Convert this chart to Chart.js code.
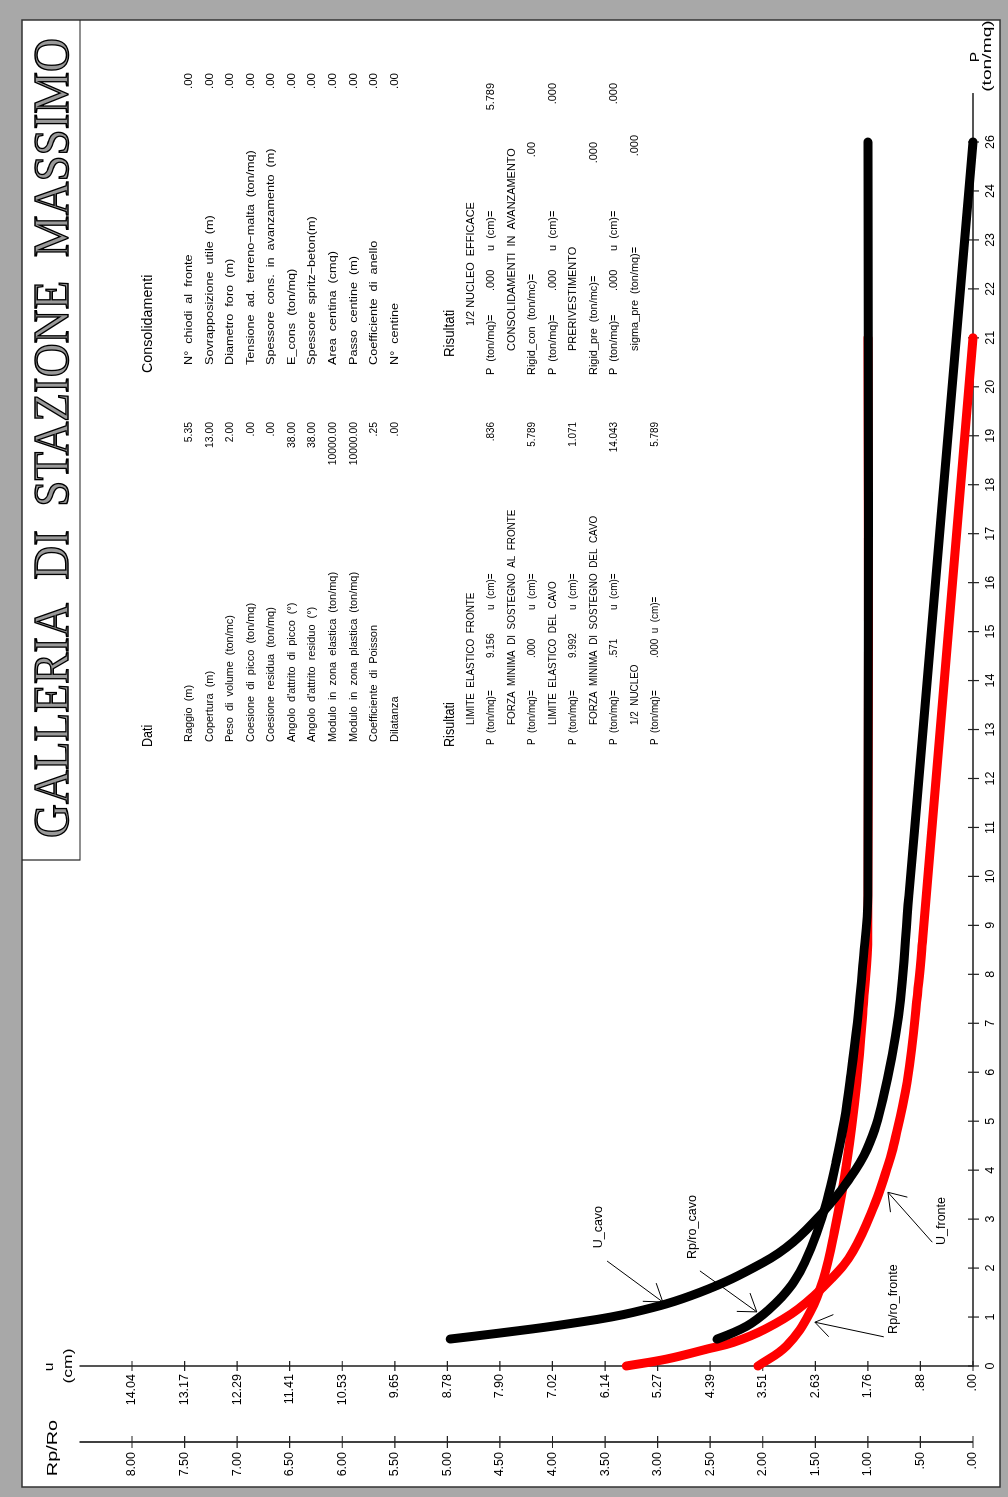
<!DOCTYPE html>
<html lang="it">
<head>
<meta charset="utf-8">
<title>Galleria di stazione Massimo</title>
<script src="https://cdn.jsdelivr.net/npm/chart.js@4.4.1/dist/chart.umd.min.js"></script>
<style>
  html, body { margin: 0; padding: 0; background: #a8a8a8; overflow: hidden; }
  /* the sheet is laid out landscape and turned a quarter turn */
  #sheet {
    position: absolute; left: 0; top: 0;
    width: 1497px; height: 1008px;
    transform-origin: 0 0;
    transform: translateY(1497px) rotate(-90deg);
  }
</style>
</head>
<body>
<div id="sheet"><canvas id="curve" width="1497" height="1008"></canvas></div>
<script>
// ---- curve caratteristiche (P in ton/mq) ----------------------------
const pUCavo    = [0.573, 0.70, 0.891, 1.14, 1.564, 2.20, 2.63, 3.27, 3.905, 4.606, 5.667, 7.43, 9.992, 13.0, 18.4, 26.0];
const uCavo     = [8.73, 7.90, 6.78, 5.67, 4.56, 3.50, 3.006, 2.505, 2.104, 1.77, 1.503, 1.245, 1.071, 0.87, 0.51, 0.0];
const pRpCavo   = [0.571, 0.70, 0.85, 1.0, 1.2, 1.44, 1.8, 2.2, 2.8, 3.5, 4.3, 5.2, 6.2, 7.3, 8.5, 9.992, 26.0];
const rpCavo    = [2.435, 2.29, 2.15, 2.05, 1.94, 1.83, 1.70, 1.60, 1.49, 1.39, 1.305, 1.225, 1.16, 1.10, 1.05, 1.0, 1.0];
const pUFronte  = [0, 0.149, 0.36, 0.503, 0.785, 1.21, 1.847, 2.44, 3.44, 4.18, 4.606, 6.03, 8.15, 9.156, 21.84];
const uFronte   = [5.789, 5.11, 4.44, 4.00, 3.47, 2.92, 2.37, 2.00, 1.64, 1.44, 1.34, 1.10, 0.905, 0.836, 0.0];
const pRpFronte = [0, 0.43, 1.14, 1.84, 2.84, 4.25, 6.02, 7.79, 9.156, 21.84];
const rpFronte  = [2.045, 1.772, 1.55, 1.425, 1.32, 1.205, 1.105, 1.04, 1.0, 1.0];

// ---- axis ticks --------------------------------------------------------
const pTicks = [0, 1.04, 2.08, 3.12, 4.16, 5.2, 6.24, 7.28, 8.32, 9.36, 10.4, 11.44, 12.48,
                13.52, 14.56, 15.6, 16.64, 17.68, 18.72, 19.76, 20.8, 21.84, 22.88, 23.92, 24.96, 26];
const pTickLabels = ['0','1','2','3','4','5','6','7','8','9','10','11','12',
                     '13','14','15','16','17','18','19','20','21','22','23','24','26'];
const uTicks = [0, 0.878, 1.755, 2.633, 3.511, 4.388, 5.266, 6.144, 7.022, 7.899,
                8.777, 9.655, 10.532, 11.41, 12.288, 13.165, 14.043];
const uTickLabels = ['.00','.88','1.76','2.63','3.51','4.39','5.27','6.14','7.02','7.90',
                     '8.78','9.65','10.53','11.41','12.29','13.17','14.04'];
const rpTicks = [0, 0.5, 1, 1.5, 2, 2.5, 3, 3.5, 4, 4.5, 5, 5.5, 6, 6.5, 7, 7.5, 8];
const rpTickLabels = ['.00','.50','1.00','1.50','2.00','2.50','3.00','3.50','4.00',
                      '4.50','5.00','5.50','6.00','6.50','7.00','7.50','8.00'];

// ---- callouts, in (P, u) units -----------------------------------------
const notes = [
  { text: 'U_cavo',       at: [2.95, 6.26], tail: [2.23, 6.11], tip: [1.36, 5.18] },
  { text: 'Rp/ro_cavo',   at: [2.95, 4.68], tail: [2.02, 4.56], tip: [1.15, 3.61] },
  { text: 'Rp/ro_fronte', at: [1.42, 1.33], tail: [0.62, 1.49], tip: [0.93, 2.64] },
  { text: 'U_fronte',     at: [3.08, 0.53], tail: [2.63, 0.68], tip: [3.69, 1.42] }
];

// ---- tabelle -----------------------------------------------------------
const datiLabels = ['Raggio  (m)', 'Copertura  (m)', 'Peso  di  volume  (ton/mc)',
  'Coesione  di  picco  (ton/mq)', 'Coesione  residua  (ton/mq)', "Angolo  d'attrito  di  picco  (°)",
  "Angolo  d'attrito  residuo  (°)", 'Modulo  in  zona  elastica  (ton/mq)',
  'Modulo  in  zona  plastica  (ton/mq)', 'Coefficiente  di  Poisson', 'Dilatanza'];
const datiValues = ['5.35', '13.00', '2.00', '.00', '.00', '38.00', '38.00', '10000.00', '10000.00', '.25', '.00'];
const consLabels = ['N°  chiodi  al  fronte', 'Sovrapposizione  utile  (m)', 'Diametro  foro  (m)',
  'Tensione  ad.  terreno−malta  (ton/mq)', 'Spessore  cons.  in  avanzamento  (m)', 'E_cons  (ton/mq)',
  'Spessore  spritz−beton(m)', 'Area  centina  (cmq)', 'Passo  centine  (m)',
  'Coefficiente  di  anello', 'N°  centine'];
const consValues = ['.00', '.00', '.00', '.00', '.00', '.00', '.00', '.00', '.00', '.00', '.00'];

// rows of [text, x, align]
const resultsLeft = [
  [['LIMITE  ELASTICO  FRONTE', 772]],
  [['P  (ton/mq)=', 752], ['9.156', 839], ['u  (cm)=', 887], ['.836', 1075, 'right']],
  [['FORZA  MINIMA  DI  SOSTEGNO  AL  FRONTE', 772]],
  [['P  (ton/mq)=', 752], ['.000', 839], ['u  (cm)=', 887], ['5.789', 1075, 'right']],
  [['LIMITE  ELASTICO  DEL  CAVO', 772]],
  [['P  (ton/mq)=', 752], ['9.992', 839], ['u  (cm)=', 887], ['1.071', 1075, 'right']],
  [['FORZA  MINIMA  DI  SOSTEGNO  DEL  CAVO', 772]],
  [['P  (ton/mq)=', 752], ['.571', 839], ['u  (cm)=', 887], ['14.043', 1075, 'right']],
  [['1/2  NUCLEO', 772]],
  [['P  (ton/mq)=', 752], ['.000  u  (cm)=', 839], ['5.789', 1075, 'right']]
];
const resultsRight = [
  [['1/2 NUCLEO  EFFICACE', 1171]],
  [['P  (ton/mq)=', 1122], ['.000', 1206], ['u  (cm)=', 1246], ['5.789', 1414, 'right']],
  [['CONSOLIDAMENTI  IN  AVANZAMENTO', 1146]],
  [['Rigid_con  (ton/mc)=', 1122], ['.00', 1355, 'right']],
  [['P  (ton/mq)=', 1122], ['.000', 1206], ['u  (cm)=', 1246], ['.000', 1414, 'right']],
  [['PRERIVESTIMENTO', 1146]],
  [['Rigid_pre  (ton/mc)=', 1122], ['.000', 1355, 'right']],
  [['P  (ton/mq)=', 1122], ['.000', 1206], ['u  (cm)=', 1246], ['.000', 1414, 'right']],
  [['sigma_pre  (ton/mq)=', 1146], ['.000', 1362, 'right']]
];

const SANS = '"Liberation Sans", Arial, sans-serif';
const SERIF = '"Liberation Serif", "DejaVu Serif", serif';

function pts(xs, ys) {
  return xs.map((x, i) => ({ x, y: ys[i] }));
}

// text with an optional horizontal stretch (sx), like the plotter font
function text(ctx, s, x, y, o = {}) {
  const size = o.size || 11.5, sx = o.sx || 1;
  ctx.save();
  ctx.font = `${size}px ${SANS}`;
  ctx.textBaseline = 'middle';
  ctx.textAlign = 'left';
  ctx.fillStyle = '#000';
  const w = ctx.measureText(s).width * sx;
  const x0 = o.align === 'right' ? x - w : o.align === 'center' ? x - w / 2 : x;
  ctx.translate(x0, y);
  ctx.scale(sx, 1);
  ctx.fillText(s, 0, 0);
  ctx.restore();
}

function drawAxes(chart) {
  const { ctx, chartArea: a, scales: { x, u, rp } } = chart;
  const uStep = uTicks[uTicks.length - 1] - uTicks[uTicks.length - 2];
  const pStep = pTicks[pTicks.length - 1] - pTicks[pTicks.length - 2];
  const top = u.getPixelForValue(uTicks[uTicks.length - 1] + uStep);
  const pEnd = x.getPixelForValue(pTicks[pTicks.length - 1] + pStep);

  ctx.save();
  ctx.lineCap = 'butt';
  ctx.strokeStyle = '#555';
  ctx.lineWidth = 2;
  ctx.beginPath();
  ctx.moveTo(a.left, top);
  ctx.lineTo(a.left, a.bottom);
  ctx.lineTo(pEnd, a.bottom);
  ctx.stroke();

  ctx.strokeStyle = '#000';
  ctx.lineWidth = 1.5;
  ctx.beginPath();
  ctx.moveTo(rp.right, top);
  ctx.lineTo(rp.right, a.bottom);
  ctx.stroke();

  // tick marks cross the axis lines
  ctx.strokeStyle = '#222';
  ctx.lineWidth = 1.2;
  ctx.beginPath();
  pTicks.forEach(v => {
    const px = x.getPixelForValue(v);
    ctx.moveTo(px, a.bottom - 5);
    ctx.lineTo(px, a.bottom + 6);
  });
  uTicks.forEach(v => {
    const py = u.getPixelForValue(v);
    ctx.moveTo(a.left - 5, py);
    ctx.lineTo(a.left + 5, py);
  });
  rpTicks.forEach(v => {
    const py = rp.getPixelForValue(v);
    ctx.moveTo(rp.right - 6, py);
    ctx.lineTo(rp.right + 6, py);
  });
  ctx.stroke();
  ctx.restore();

  // axis titles
  text(ctx, 'u', a.left - 1, top - 30, { size: 13, align: 'center', sx: 1.2 });
  text(ctx, '(cm)', a.left, top - 11, { size: 13, align: 'center', sx: 1.35 });
  text(ctx, 'Rp/Ro', rp.right - 6, top - 26, { size: 14, align: 'center', sx: 1.42 });
  text(ctx, 'P', pEnd + 36, a.bottom + 3, { size: 12, align: 'center', sx: 1.3 });
  text(ctx, '(ton/mq)', pEnd + 37, a.bottom + 15, { size: 12, align: 'center', sx: 1.6 });
}

function drawNotes(chart) {
  const { ctx, scales: { x, u } } = chart;
  const at = ([p, v]) => [x.getPixelForValue(p), u.getPixelForValue(v)];
  ctx.save();
  ctx.strokeStyle = '#000';
  ctx.lineWidth = 1;
  notes.forEach(n => {
    const [x0, y0] = at(n.tail);
    const [x1, y1] = at(n.tip);
    const ang = Math.atan2(y0 - y1, x0 - x1);
    ctx.beginPath();
    ctx.moveTo(x0, y0);
    ctx.lineTo(x1, y1);
    [-0.6, 0.6].forEach(d => {
      ctx.moveTo(x1, y1);
      ctx.lineTo(x1 + 20 * Math.cos(ang + d), y1 + 20 * Math.sin(ang + d));
    });
    ctx.stroke();
    const [tx, ty] = at(n.at);
    text(ctx, n.text, tx, ty, { size: 12.5, align: 'center' });
  });
  ctx.restore();
}

function drawTables(chart) {
  const { ctx } = chart;
  const row = i => 189 + 20.55 * i;

  text(ctx, 'Dati', 750, 148, { size: 14, sx: 0.9 });
  datiLabels.forEach((s, i) => text(ctx, s, 755, row(i), { sx: 0.95 }));
  datiValues.forEach((s, i) => text(ctx, s, 1075, row(i), { sx: 0.9, align: 'right' }));

  text(ctx, 'Consolidamenti', 1124, 148, { size: 14, sx: 1.02 });
  consLabels.forEach((s, i) => text(ctx, s, 1132, row(i), { sx: 1.1 }));
  consValues.forEach((s, i) => text(ctx, s, 1424, row(i), { sx: 1.0, align: 'right' }));

  const res = i => 450 + 20.5 * i;
  text(ctx, 'Risultati', 750, res(0), { size: 14, sx: 0.9 });
  resultsLeft.forEach((r, i) => r.forEach(([s, px, al]) =>
    text(ctx, s, px, res(i + 1), { sx: 0.86, align: al })));
  text(ctx, 'Risultati', 1140, res(0), { size: 14, sx: 0.95 });
  resultsRight.forEach((r, i) => r.forEach(([s, px, al]) =>
    text(ctx, s, px, res(i + 1), { sx: 0.95, align: al })));
}

function drawTitle(chart) {
  const { ctx } = chart;
  ctx.save();
  ctx.strokeStyle = '#222';
  ctx.lineWidth = 1.2;
  ctx.beginPath();
  ctx.moveTo(637, 22);
  ctx.lineTo(637, 80);
  ctx.lineTo(1477, 80);
  ctx.stroke();

  ctx.font = `50px ${SERIF}`;
  ctx.textBaseline = 'alphabetic';
  ctx.textAlign = 'left';
  ctx.lineWidth = 1.4;
  ctx.strokeStyle = '#000';
  ctx.fillStyle = '#9a9a9a';
  ctx.fillText('GALLERIA  DI  STAZIONE  MASSIMO', 659, 68, 800);
  ctx.strokeText('GALLERIA  DI  STAZIONE  MASSIMO', 659, 68, 800);
  ctx.restore();
}

const sheet = {
  id: 'sheet',
  beforeDraw(chart) {
    const { ctx, width, height } = chart;
    ctx.save();
    ctx.fillStyle = '#a8a8a8';
    ctx.fillRect(0, 0, width, height);
    ctx.fillStyle = '#fff';
    ctx.fillRect(10, 22, 1467, 978);
    ctx.strokeStyle = '#333';
    ctx.lineWidth = 1.5;
    ctx.strokeRect(10, 22, 1467, 978);
    ctx.restore();
  },
  beforeDatasetsDraw(chart) { drawAxes(chart); },
  afterDraw(chart) {
    drawNotes(chart);
    drawTables(chart);
    drawTitle(chart);
  }
};

const tickFont = { family: SANS, size: 12.5 };

new Chart(document.getElementById('curve'), {
  type: 'line',
  data: {
    datasets: [
      { label: 'Rp/ro_fronte', data: pts(pRpFronte, rpFronte), yAxisID: 'rp', borderColor: '#ff0000', order: 2 },
      { label: 'U_fronte', data: pts(pUFronte, uFronte), yAxisID: 'u', borderColor: '#ff0000', order: 2 },
      { label: 'Rp/ro_cavo', data: pts(pRpCavo, rpCavo), yAxisID: 'rp', borderColor: '#000', order: 1 },
      { label: 'U_cavo', data: pts(pUCavo, uCavo), yAxisID: 'u', borderColor: '#000', order: 1 }
    ]
  },
  options: {
    responsive: false,
    animation: false,
    devicePixelRatio: 1,
    events: [],
    layout: { padding: { top: 132, right: 142, bottom: 0, left: 0 } },
    elements: {
      line: { borderWidth: 9, borderCapStyle: 'round', borderJoinStyle: 'round',
              tension: 0.4, fill: false },
      point: { radius: 0 }
    },
    datasets: { line: { clip: false } },
    plugins: { legend: { display: false }, tooltip: { enabled: false } },
    scales: {
      x: {
        type: 'linear', position: 'bottom', min: 0, max: 26,
        grid: { display: false, drawTicks: false },
        border: { display: false },
        afterBuildTicks: s => { s.ticks = pTicks.map(v => ({ value: v })); },
        afterFit: s => { s.height = 35; },
        ticks: { autoSkip: false, maxRotation: 0, padding: 10, color: '#000', font: tickFont,
                 callback: (v, i) => pTickLabels[i] }
      },
      u: {
        type: 'linear', position: 'left', weight: 0, min: 0, max: 14.043,
        grid: { display: false, drawTicks: false },
        border: { display: false },
        afterBuildTicks: s => { s.ticks = uTicks.map(v => ({ value: v })); },
        afterFit: s => { s.width = 76; },
        ticks: { autoSkip: false, padding: 8, color: '#000', font: tickFont,
                 callback: (v, i) => uTickLabels[i] }
      },
      rp: {
        type: 'linear', position: 'left', weight: 1, min: 0, max: 8,
        grid: { display: false, drawTicks: false },
        border: { display: false },
        afterBuildTicks: s => { s.ticks = rpTicks.map(v => ({ value: v })); },
        afterFit: s => { s.width = 55; },
        ticks: { autoSkip: false, padding: 10, color: '#000', font: tickFont,
                 callback: (v, i) => rpTickLabels[i] }
      }
    }
  },
  plugins: [sheet]
});
</script>
</body>
</html>
